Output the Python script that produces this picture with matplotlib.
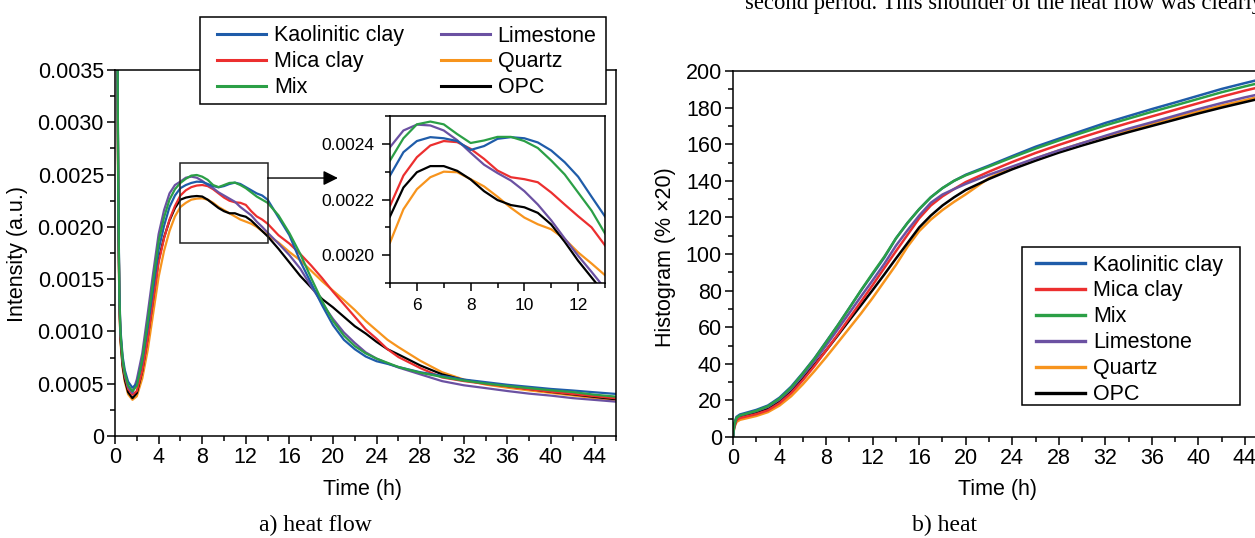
import numpy as np
import matplotlib
matplotlib.use('Agg')
import matplotlib.pyplot as plt
from matplotlib.ticker import MultipleLocator, FuncFormatter
from matplotlib.patches import Rectangle

plt.rcParams['font.family'] = ['Liberation Sans', 'DejaVu Sans']

# ---------------- data ----------------
SERIES = ['Kaolinitic clay', 'Mica clay', 'Mix', 'Limestone', 'Quartz', 'OPC']
COLORS = ['#1f5ca9', '#ec2f2f', '#2b9f46', '#6b51a2', '#f7941d', '#000000']

# a) heat flow, time (h) and intensity (x1e-4 a.u.)
T_FLOW = [0.1, 0.2, 0.3, 0.4, 0.5, 0.7, 0.9, 1.2, 1.6, 2.0, 2.5, 3.0, 3.5, 4.0, 4.5,
          5.0, 5.5, 6.0, 6.5, 7.0, 7.5, 8.0, 8.5, 9.0, 9.5, 10.0, 10.5, 11.0, 11.5,
          12.0, 12.5, 13.0, 13.5, 14.0, 15, 16, 17, 18, 19, 20, 21, 22, 23, 24, 25,
          26, 28, 30, 32, 34, 36, 38, 40, 42, 44, 46]
FLOW_KAOLINITIC = [75, 43, 23.5, 13.8, 10.2, 7.6, 6.3, 5.2, 4.62, 5.0, 7.1, 10.4, 14.1, 17.8, 20.1,
                   21.9, 23.0, 23.7, 24.0, 24.2, 24.32, 24.3, 24.1, 23.9, 23.78, 23.9, 24.1, 24.23, 24.1,
                   23.8, 23.5, 23.2, 23.0, 22.6, 20.9, 19.2, 16.7, 14.6, 12.5, 10.6, 9.2, 8.3, 7.6, 7.15, 6.9,
                   6.6, 6.1, 5.75, 5.4, 5.15, 4.9, 4.7, 4.5, 4.35, 4.18, 4.02]
FLOW_MICA = [75, 42, 22.5, 13.0, 9.6, 7.0, 5.7, 4.5, 3.95, 4.3, 6.2, 9.3, 13.0, 16.6, 18.9,
             20.7, 22.0, 23.0, 23.5, 23.8, 23.95, 24.0, 23.9, 23.6, 23.2, 22.8, 22.5, 22.35, 22.3,
             22.1, 21.5, 21.0, 20.7, 20.3, 19.2, 18.4, 17.4, 16.3, 15.1, 13.8, 12.6, 11.4, 10.2, 9.3, 8.3,
             7.55, 6.5, 5.6, 5.25, 4.98, 4.75, 4.47, 4.23, 4.02, 3.81, 3.6]
FLOW_MIX = [75, 43, 23.0, 13.4, 9.9, 7.3, 6.0, 4.85, 4.28, 4.8, 7.3, 10.9, 14.8, 18.6, 20.9,
            22.6, 23.6, 24.2, 24.6, 24.9, 24.96, 24.8, 24.5, 24.0, 23.8, 24.0, 24.2, 24.23, 24.0,
            23.7, 23.3, 22.9, 22.6, 22.3, 21.1, 19.4, 17.4, 15.1, 12.9, 11.0, 9.6, 8.6, 7.9, 7.4, 7.0,
            6.6, 6.05, 5.65, 5.3, 5.02, 4.78, 4.58, 4.37, 4.2, 3.95, 3.76]
FLOW_LIMESTONE = [75, 43, 23.0, 13.3, 9.8, 7.2, 5.9, 4.7, 4.12, 5.4, 7.9, 11.7, 15.6, 19.3, 21.6,
                  23.2, 24.0, 24.33, 24.7, 24.8, 24.7, 24.4, 24.0, 23.7, 23.3, 23.0, 22.7, 22.4, 21.9,
                  21.5, 21.1, 20.5, 20.0, 19.45, 18.4, 17.3, 16.0, 14.3, 12.7, 11.2, 9.9, 8.9, 8.0, 7.4, 6.95,
                  6.55, 5.9, 5.25, 4.85, 4.58, 4.3, 4.05, 3.86, 3.62, 3.45, 3.28]
FLOW_QUARTZ = [75, 41, 21.5, 12.4, 9.0, 6.5, 5.2, 4.0, 3.46, 3.8, 5.5, 8.2, 11.7, 15.2, 17.7,
               19.6, 21.0, 21.9, 22.3, 22.6, 22.7, 22.73, 22.6, 22.3, 21.9, 21.6, 21.3, 21.0, 20.7,
               20.5, 20.3, 20.0, 19.6, 19.2, 18.5, 17.6, 16.8, 15.8, 14.8, 13.9, 13.0, 12.05, 11.0, 10.1, 9.2,
               8.5, 7.2, 6.1, 5.4, 4.92, 4.62, 4.36, 4.12, 3.88, 3.63, 3.38]
FLOW_OPC = [75, 42, 22.0, 12.7, 9.3, 6.7, 5.4, 4.2, 3.62, 4.1, 6.2, 9.4, 13.1, 16.8, 19.0,
            20.6, 21.8, 22.6, 22.8, 22.9, 22.95, 22.9, 22.6, 22.2, 21.8, 21.5, 21.3, 21.3, 21.1,
            20.97, 20.6, 20.1, 19.6, 19.1, 17.9, 16.6, 15.3, 14.2, 13.1, 12.3, 11.4, 10.5, 9.8, 9.0, 8.3,
            7.8, 6.75, 5.9, 5.35, 5.05, 4.78, 4.5, 4.22, 3.98, 3.74, 3.51]

# inset (zoomed heat flow), time (h) and intensity (x1e-4 a.u.)
T_INSET = [5.0, 5.5, 6.0, 6.5, 7.0, 7.5, 8.0, 8.5, 9.0, 9.5, 10.0, 10.5, 11.0, 11.5, 12.0, 12.5, 13.0]
INSET_KAOLINITIC = [22.86, 23.7, 24.1, 24.24, 24.2, 24.1, 23.78, 23.92, 24.18, 24.24, 24.2, 24.05, 23.76, 23.34, 22.82, 22.1, 21.39]
INSET_MICA = [21.77, 22.86, 23.52, 23.94, 24.1, 24.06, 23.82, 23.46, 23.04, 22.8, 22.73, 22.62, 22.25, 21.82, 21.4, 21.0, 20.35]
INSET_MIX = [23.4, 24.2, 24.7, 24.8, 24.7, 24.35, 24.03, 24.12, 24.25, 24.25, 24.1, 23.85, 23.4, 22.9, 22.25, 21.6, 20.78]
INSET_LIMESTONE = [23.88, 24.48, 24.69, 24.66, 24.48, 24.13, 23.68, 23.25, 22.95, 22.68, 22.3, 21.82, 21.25, 20.6, 19.98, 19.4, 18.8]
INSET_QUARTZ = [20.45, 21.65, 22.37, 22.8, 23.0, 22.98, 22.73, 22.47, 22.1, 21.7, 21.35, 21.11, 20.93, 20.58, 20.1, 19.7, 19.28]
INSET_OPC = [21.39, 22.43, 22.98, 23.2, 23.2, 23.03, 22.72, 22.3, 21.98, 21.8, 21.72, 21.52, 21.1, 20.48, 19.8, 19.2, 18.6]

# b) heat, time (h) and cumulative value
T_HEAT = [0, 0.1, 0.3, 0.6, 1, 2, 3, 4, 5, 6, 7, 8, 9, 10, 11, 12, 13, 14, 15, 16, 17, 18, 19,
          20, 22, 24, 26, 28, 30, 32, 34, 36, 38, 40, 42, 44, 46]
HEAT_KAOLINITIC = [0, 7, 11, 12.3, 13, 14.8, 17.2, 21.5, 27.5, 35, 43, 52, 61, 70.5, 80, 89, 98, 108.5, 117,
                   124.5, 131, 136, 140, 143.3, 148.3, 153.5, 158.6, 163, 167.3, 171.6, 175.4, 179.2, 182.8,
                   186.5, 190.2, 193.4, 196.5]
HEAT_MICA = [0, 5.5, 9.3, 10.4, 11, 12.5, 14.6, 18.5, 24, 31, 38.8, 47.3, 56, 65, 74, 83, 92.3, 101.5, 110.5,
             119.5, 126.5, 131.5, 135.5, 139.3, 145, 150.3, 155.2, 159.6, 163.8, 167.8, 171.6, 175.2, 178.8,
             182.4, 186, 189.3, 192.3]
HEAT_MIX = [0, 6.5, 10.5, 11.8, 12.5, 14.3, 16.8, 21, 27, 34.7, 42.8, 51.8, 61, 70.5, 80.2, 89.5, 98.5, 108.5,
            117, 124.5, 131, 136, 140, 143, 147.8, 152.8, 157.6, 162, 166.2, 170.3, 174, 177.7, 181.2, 184.8,
            188.4, 191.6, 194.6]
HEAT_LIMESTONE = [0, 6.5, 10.5, 11.8, 12.5, 14.2, 16.5, 20.5, 26.3, 33.6, 41.5, 50, 58.8, 67.8, 76.8, 85.6,
                  94.6, 104.5, 113, 121, 128, 132.5, 135.5, 138.3, 143.3, 147.8, 152.3, 156.6, 160.6, 164.6,
                  168.5, 172, 175.6, 179.2, 182.5, 185.6, 188.4]
HEAT_QUARTZ = [0, 5, 8.2, 9.4, 10, 11.5, 13.6, 17.2, 22.3, 28.8, 36, 43.6, 51.5, 59.5, 67.5, 76, 85, 94,
               104, 112.5, 118.8, 124, 128.5, 132.6, 141.5, 147.2, 152.2, 156.6, 160.6, 164.2, 167.8, 171.2,
               174.6, 177.9, 181.1, 184.1, 187]
HEAT_OPC = [0, 6, 9.8, 11, 11.6, 13.2, 15.5, 19.5, 25, 32, 39.5, 47.3, 55.5, 63.8, 72, 80.3, 88.8, 97.5,
            106, 114.5, 121, 126.5, 131, 135, 141, 146.3, 151, 155.4, 159.3, 163, 166.6, 170, 173.4, 176.8,
            180, 183, 186]

FLOW = [FLOW_KAOLINITIC, FLOW_MICA, FLOW_MIX, FLOW_LIMESTONE, FLOW_QUARTZ, FLOW_OPC]
INSET = [INSET_KAOLINITIC, INSET_MICA, INSET_MIX, INSET_LIMESTONE, INSET_QUARTZ, INSET_OPC]
HEAT = [HEAT_KAOLINITIC, HEAT_MICA, HEAT_MIX, HEAT_LIMESTONE, HEAT_QUARTZ, HEAT_OPC]
SCALE = 1e-4
ORDER = [4, 5, 1, 3, 0, 2]

# ---------------- figure ----------------
W, H = 1255, 538
fig = plt.figure(figsize=(W / 100, H / 100), dpi=100)
FS = 15.5
LW = 1.6


def px(x0, y_top, w, h):
    return [x0 / W, 1 - (y_top + h) / H, w / W, h / H]


def style(ax, fs, major=6, minor=3.5):
    for s in ax.spines.values():
        s.set_linewidth(1.1)
        s.set_color('black')
    ax.tick_params(which='both', direction='out', width=1.1, colors='black',
                   labelsize=fs, top=False, right=False)
    ax.tick_params(which='major', length=major, pad=2)
    ax.tick_params(which='minor', length=minor)


def boxed_legend(handles, x0, y0, x1, y1, content_left, content_top, **kw):
    fig.add_artist(Rectangle((x0 / W, 1 - y1 / H), (x1 - x0) / W, (y1 - y0) / H,
                             transform=fig.transFigure, fc='white', ec='black',
                             lw=1.1, zorder=4))
    leg = fig.legend(handles, SERIES, loc='upper left',
                     bbox_to_anchor=(content_left / W, 1 - content_top / H),
                     bbox_transform=fig.transFigure, fontsize=FS, frameon=False,
                     borderpad=0, borderaxespad=0, labelspacing=0.23,
                     handlelength=2.28, handletextpad=0.37, **kw)
    leg.set_zorder(5)
    return leg


# ---- a) heat flow ----
ax1 = fig.add_axes(px(115, 70, 46 * 10.9, 366))
for i in ORDER:
    ax1.plot(T_FLOW, np.array(FLOW[i]) * SCALE, color=COLORS[i], lw=LW, label=SERIES[i])
ax1.set_xlim(0, 46)
ax1.set_ylim(0, 0.0035)
ax1.xaxis.set_major_locator(MultipleLocator(4))
ax1.xaxis.set_minor_locator(MultipleLocator(2))
ax1.yaxis.set_major_locator(MultipleLocator(0.0005))
ax1.yaxis.set_minor_locator(MultipleLocator(0.00025))
ax1.yaxis.set_major_formatter(FuncFormatter(lambda v, p: '0' if abs(v) < 1e-12 else f'{v:.4f}'))
style(ax1, FS)

ax1.add_patch(Rectangle((6, 0.00185), 8, 0.00076, fill=False, ec='#222222', lw=1.1, zorder=5))
ax1.annotate('', xy=(20.45, 0.002467), xytext=(14, 0.002467),
             arrowprops=dict(arrowstyle='-|>', color='black', lw=1.0, mutation_scale=22,
                             shrinkA=0, shrinkB=0), zorder=5)

h1 = {l.get_label(): l for l in ax1.get_lines()}
leg1 = boxed_legend([h1[s] for s in SERIES], 200, 17, 606, 104, 217, 25.5,
                    ncol=2, columnspacing=1.7)
for l in leg1.get_lines():
    l.set_linewidth(2.2)

# ---- inset ----
axi = fig.add_axes(px(390, 116, 215, 167))
for i in ORDER:
    axi.plot(T_INSET, np.array(INSET[i]) * SCALE, color=COLORS[i], lw=LW)
axi.set_xlim(5, 13)
axi.set_ylim(0.0019, 0.0025)
axi.xaxis.set_major_locator(MultipleLocator(2))
axi.xaxis.set_minor_locator(MultipleLocator(1))
axi.yaxis.set_major_locator(MultipleLocator(0.0002))
axi.yaxis.set_minor_locator(MultipleLocator(0.0001))
axi.yaxis.set_major_formatter(FuncFormatter(lambda v, p: f'{v:.4f}'))
style(axi, 12.5, major=6, minor=3.5)
axi.tick_params(axis='y', which='major', pad=5)
axi.tick_params(axis='x', which='major', pad=5)

# ---- b) heat ----
ax2 = fig.add_axes(px(733, 71, 46 * 11.636, 366))
for i in ORDER:
    ax2.plot(T_HEAT, HEAT[i], color=COLORS[i], lw=LW + 0.2, label=SERIES[i])
ax2.set_xlim(0, 46)
ax2.set_ylim(0, 200)
ax2.xaxis.set_major_locator(MultipleLocator(4))
ax2.xaxis.set_minor_locator(MultipleLocator(2))
ax2.yaxis.set_major_locator(MultipleLocator(20))
ax2.yaxis.set_minor_locator(MultipleLocator(10))
style(ax2, FS)
h2 = {l.get_label(): l for l in ax2.get_lines()}
leg2 = boxed_legend([h2[s] for s in SERIES], 1022, 247, 1240, 405, 1036, 254.5)
for l in leg2.get_lines():
    l.set_linewidth(2.4)

# ---- labels ----
fig.text(18 / W, 1 - 254 / H, 'Intensity (a.u.)', rotation=90, ha='center', va='center', fontsize=FS)
fig.text(666 / W, 1 - 257 / H, 'Histogram (% ×20)', rotation=90, ha='center', va='center', fontsize=FS)
fig.text(363 / W, 1 - 490 / H, 'Time (h)', ha='center', va='center', fontsize=FS)
fig.text(997 / W, 1 - 490 / H, 'Time (h)', ha='center', va='center', fontsize=FS)
SERIF = ['Liberation Serif', 'DejaVu Serif']
fig.text(315 / W, 1 - 525 / H, 'a) heat flow', ha='center', va='center', fontsize=17, family=SERIF)
fig.text(945 / W, 1 - 525 / H, 'b) heat', ha='center', va='center', fontsize=17, family=SERIF)
fig.text(745 / W, 1 - 8.5 / H, 'second period. This shoulder of the heat flow was clearly',
         ha='left', va='baseline', fontsize=16.3, family=SERIF)

fig.savefig('out.png', dpi=100)
